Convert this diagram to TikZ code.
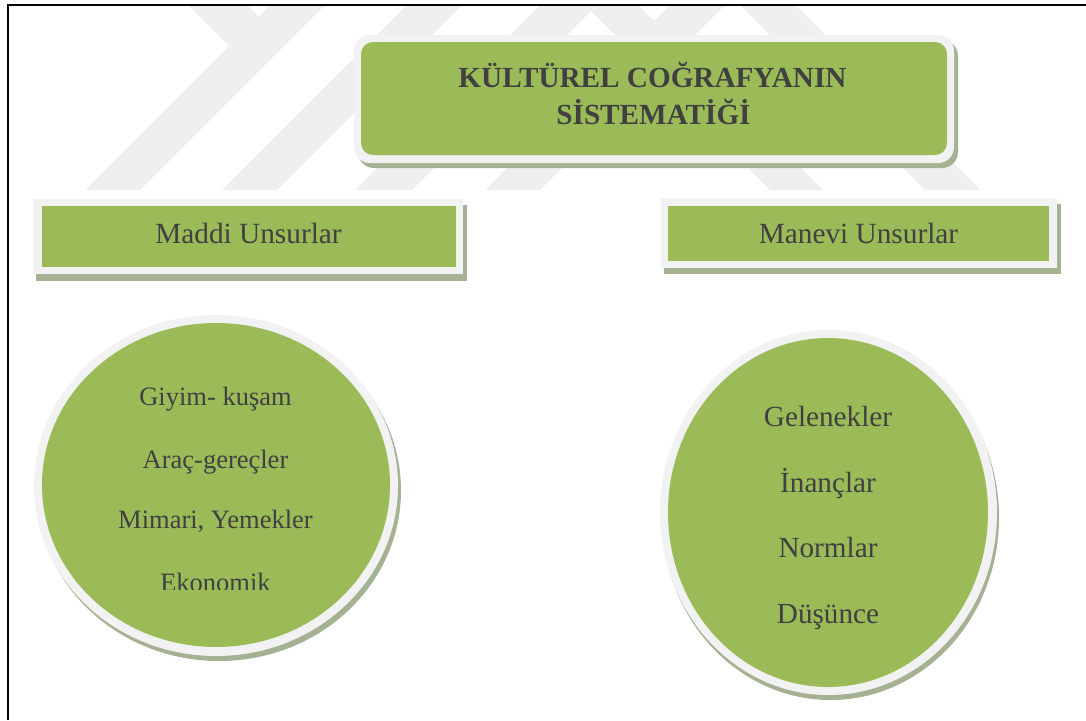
\documentclass[tikz,border=0pt]{standalone}
\usepackage{fontspec}
\setmainfont{Liberation Serif}
\usetikzlibrary{shapes.geometric}
\definecolor{leafgreen}{HTML}{9BBB59}
\definecolor{rimgray}{HTML}{F2F2F2}
\definecolor{shadowgreen}{HTML}{A5B193}
\definecolor{inkgray}{HTML}{404040}
\definecolor{markgray}{HTML}{EFEFEF}
\tikzset{
  leafbox/.style={fill=leafgreen, draw=none, inner sep=0pt},
  rimfill/.style={fill=rimgray},
  shadowfill/.style={fill=shadowgreen},
  wmark/.style={fill=markgray},
  titletext/.style={font=\fontsize{29.2}{37}\selectfont\bfseries, text=inkgray, inner sep=0pt, anchor=base},
  headtext/.style={font=\fontsize{29.3}{35}\selectfont, text=inkgray, inner sep=0pt, anchor=base},
  lefttext/.style={font=\fontsize{26.5}{32}\selectfont, text=inkgray, inner sep=0pt, anchor=base},
  righttext/.style={font=\fontsize{29.2}{35}\selectfont, text=inkgray, inner sep=0pt, anchor=base}
}
\begin{document}
\begin{tikzpicture}[x=1pt,y=-1pt]
\useasboundingbox (0,0) rectangle (1086,720);
\fill[white] (0,0) rectangle (1086,720);
% watermark
\begin{scope}
  \clip (8.5,6) rectangle (1086,190);
  \fill[wmark] (188,5) -- (229,46) -- (85,190) -- (140,190) -- (325,5) -- (270,5) -- (258.5,16.5) -- (247,5) -- cycle;
  \fill[wmark] (407,5) -- (462,5) -- (277,190) -- (222,190) -- cycle;
  \fill[wmark] (540,5) -- (597,5) -- (412,190) -- (355,190) -- cycle;
  \fill[wmark] (585,5) -- (638,5) -- (823,190) -- (770,190) -- cycle;
  \fill[wmark] (670,5) -- (725,5) -- (540,190) -- (485,190) -- cycle;
  \fill[wmark] (740,5) -- (795,5) -- (980,190) -- (925,190) -- cycle;
\end{scope}
% frame
\draw[line width=2pt] (7.5,720) -- (7.5,5) -- (1086,5);
% title box
\fill[shadowfill, rounded corners=16pt] (358,40) rectangle (958,168);
\fill[rimfill, rounded corners=16pt] (354,35) rectangle (954,163);
\node[leafbox, rectangle, rounded corners=12pt, minimum width=586pt, minimum height=113pt] (title) at (654,98.5) {};
\node[titletext] (titleA) at (652.5,87) {KÜLTÜREL COĞRAFYANIN};
\node[titletext] (titleB) at (653.5,124) {SİSTEMATİĞİ};
% Maddi box
\fill[shadowfill] (36,205) rectangle (467,281);
\fill[rimfill] (33,199) rectangle (463,274);
\node[leafbox, rectangle, minimum width=414pt, minimum height=61pt] (maddi) at (249,236.5) {};
\node[headtext] (maddiT) at (248.5,243) {Maddi Unsurlar};
% Manevi box
\fill[shadowfill] (664,204) rectangle (1061,274);
\fill[rimfill] (661,198) rectangle (1057,268);
\node[leafbox, rectangle, minimum width=381pt, minimum height=55pt] (manevi) at (858.5,233.5) {};
\node[headtext] (maneviT) at (858.5,243) {Manevi Unsurlar};
% left circle
\fill[shadowfill] (219,490.5) ellipse [x radius=182, y radius=170.5];
\fill[rimfill] (216,485.5) ellipse [x radius=182, y radius=170.5];
\node[leafbox, ellipse, minimum width=348pt, minimum height=324pt] (maddiC) at (216,485) {};
\node[lefttext] (l1) at (215.5,405) {Giyim- kuşam};
\node[lefttext] (l2) at (215.5,468) {Araç-gereçler};
\node[lefttext] (l3) at (215.5,528) {Mimari, Yemekler};
\begin{scope}
  \clip (0,0) rectangle (1086,589);
  \node[lefttext] (l4) at (215.5,591) {Ekonomik};
\end{scope}
% right circle
\fill[shadowfill] (830.5,517.5) ellipse [x radius=168.5, y radius=182.5];
\fill[rimfill] (828.5,512.5) ellipse [x radius=168.5, y radius=182.5];
\node[leafbox, ellipse, minimum width=320pt, minimum height=349pt] (maneviC) at (828,512.5) {};
\node[righttext] (r1) at (828,426) {Gelenekler};
\node[righttext] (r2) at (828,492) {İnançlar};
\node[righttext] (r3) at (828,557) {Normlar};
\node[righttext] (r4) at (828,623) {Düşünce};
\end{tikzpicture}
\end{document}
